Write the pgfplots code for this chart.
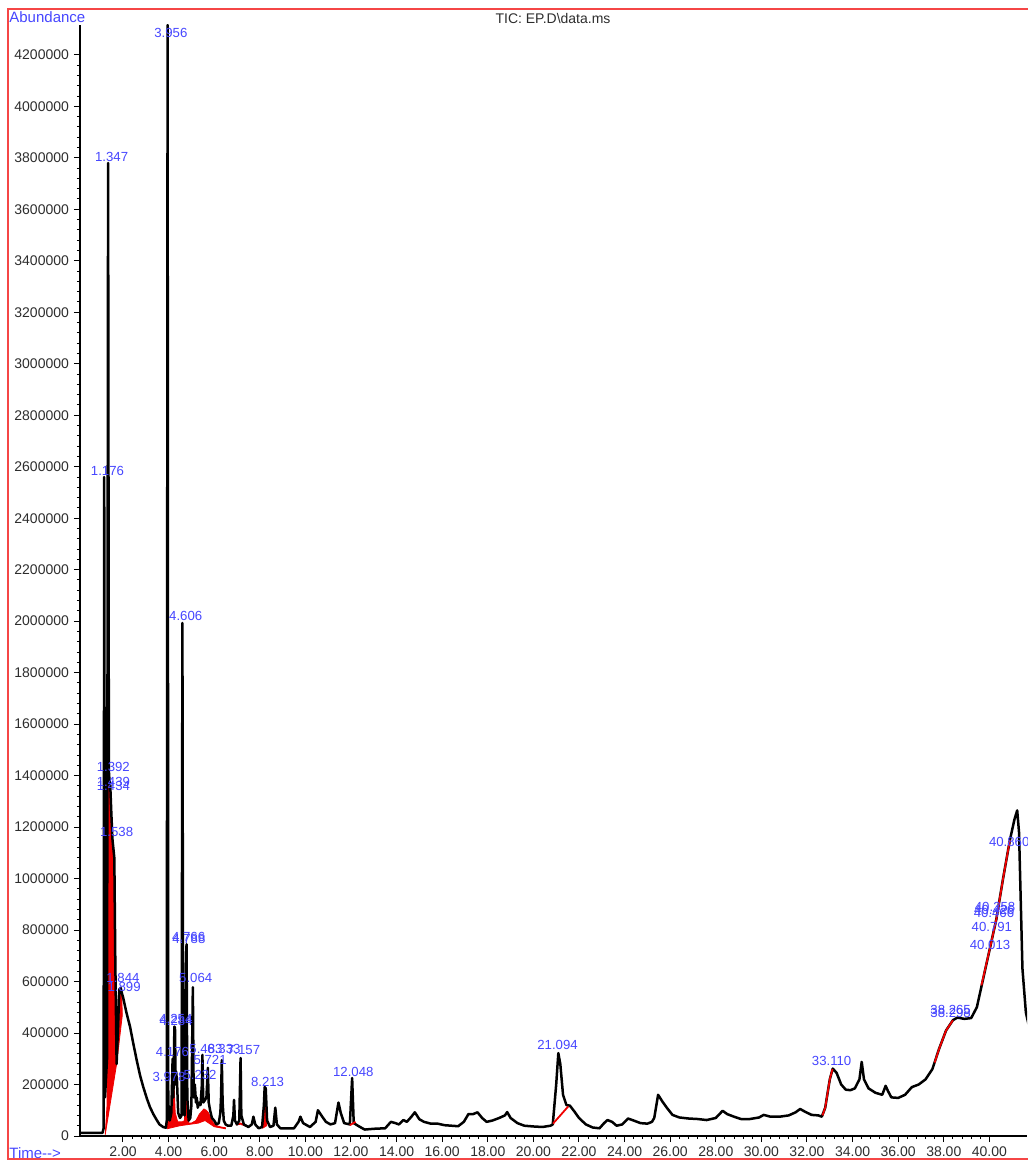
\documentclass[border=0pt]{standalone}
\usepackage{fontspec}
\setmainfont{Liberation Sans}
\usepackage{pgfplots}
\pgfplotsset{compat=1.18}
\definecolor{pkblue}{RGB}{70,70,255}
\definecolor{framered}{RGB}{245,70,70}
\definecolor{tickgray}{RGB}{45,45,45}
\definecolor{intred}{RGB}{240,0,0}
\tikzset{lbl/.style={font=\fontsize{6.6}{7}\selectfont, text=pkblue, inner sep=0pt}}
\begin{document}
\begin{tikzpicture}
\useasboundingbox (-40pt,-12pt) rectangle (473.5pt,568pt);
\begin{axis}[
  at={(0pt,0pt)}, anchor=south west, scale only axis,
  width=473.5pt, height=555.5pt,
  xmin=0.114, xmax=41.65, ymin=0, ymax=4316000,
  axis x line*=bottom, axis y line*=left,
  axis line style={black, line width=0.8pt},
  xtick={2,4,6,8,10,12,14,16,18,20,22,24,26,28,30,32,34,36,38,40},
  ytick={0,200000,400000,600000,800000,1000000,1200000,1400000,1600000,1800000,2000000,2200000,2400000,2600000,2800000,3000000,3200000,3400000,3600000,3800000,4000000,4200000},
  scaled y ticks=false,
  /pgf/number format/assume math mode=true,
  y tick label style={/pgf/number format/fixed, /pgf/number format/precision=0, /pgf/number format/1000 sep={}, xshift=1pt},
  x tick label style={/pgf/number format/fixed, /pgf/number format/fixed zerofill, /pgf/number format/precision=2, yshift=1pt},
  minor x tick num=4, minor y tick num=4,
  tick align=outside,
  major tick length=3pt, minor tick length=1.6pt,
  tick style={black, line width=0.5pt},
  ticklabel style={font=\fontsize{7}{8}\selectfont, text=tickgray},
  clip=true,
]
% integration fills (red)
\addplot[intred, fill=intred, line width=0.4pt] coordinates {
(1.22,5000)(1.30,120000)(1.345,1356000)(1.38,1370000)(1.44,1362000)(1.49,1255000)(1.54,1155000)(1.62,1085000)(1.66,700000)(1.70,290000)(1.72,280000)(1.22,5000)};
\addplot[intred, fill=intred, line width=0.4pt] coordinates {
(1.72,280000)(1.78,420000)(1.84,560000)(1.90,565000)(1.95,530000)(1.97,470000)(1.72,280000)};
\addplot[intred, fill=intred, line width=0.4pt] coordinates {
(3.93,32000)(3.97,130000)(3.99,60000)(4.05,55000)(4.12,80000)(4.17,283000)(4.21,120000)(4.25,180000)(4.29,90000)(4.4,55000)(4.6,55000)(4.7,60000)(4.775,676000)(4.80,120000)(4.88,50000)(5.0,50000)(5.2,60000)(5.35,85000)(5.45,95000)(5.55,105000)(5.65,100000)(5.75,90000)(5.85,70000)(5.95,52000)(6.1,40000)(6.3,35000)(6.5,32000)(6.5,28000)(6.0,36000)(5.6,60000)(5.3,50000)(4.5,40000)(3.93,28000)};
\addplot[intred, line width=1pt] coordinates {(6.95,45000)(7.15,48000)(7.4,40000)};
\addplot[intred, fill=intred, line width=0.4pt] coordinates {
(8.12,30000)(8.19,150000)(8.25,150000)(8.30,40000)(8.12,30000)};
% main TIC trace
\addplot[black, line width=1.25pt, line join=round] coordinates {
(0.15,12000)(1.10,12000)(1.15,30000)(1.176,2560000)(1.21,150000)(1.30,300000)(1.347,3780000)(1.38,1420000)(1.392,1400000)(1.42,1370000)(1.44,1365000)(1.49,1250000)(1.54,1150000)(1.62,1080000)(1.66,700000)(1.72,280000)(1.78,420000)(1.84,570000)(1.90,575000)(1.95,555000)(2.0,540000)(2.15,480000)(2.31,424000)(2.45,360000)(2.6,295000)(2.75,235000)(2.89,190000)(3.05,145000)(3.18,113000)(3.33,85000)(3.48,62000)(3.6,45000)(3.76,35000)(3.88,32000)(3.92,60000)(3.956,4316000)(3.985,130000)(4.05,60000)(4.12,90000)(4.176,300000)(4.21,150000)(4.254,425000)(4.28,420000)(4.31,200000)(4.33,250000)(4.37,210000)(4.42,90000)(4.50,70000)(4.57,80000)(4.606,1993000)(4.64,100000)(4.70,80000)(4.766,700000)(4.788,745000)(4.82,150000)(4.88,60000)(4.95,70000)(5.00,120000)(5.064,578000)(5.10,150000)(5.15,200000)(5.20,130000)(5.232,150000)(5.28,110000)(5.35,130000)(5.40,120000)(5.46,200000)(5.483,315000)(5.52,130000)(5.60,140000)(5.66,150000)(5.721,265000)(5.76,130000)(5.82,100000)(5.90,70000)(6.0,60000)(6.1,45000)(6.2,50000)(6.27,90000)(6.30,150000)(6.333,295000)(6.37,130000)(6.42,60000)(6.5,45000)(6.6,40000)(6.75,40000)(6.84,80000)(6.87,140000)(6.91,60000)(7.0,45000)(7.10,60000)(7.157,303000)(7.19,80000)(7.3,45000)(7.5,35000)(7.65,45000)(7.72,75000)(7.8,45000)(7.95,30000)(8.1,35000)(8.18,120000)(8.213,190000)(8.26,185000)(8.32,60000)(8.45,35000)(8.6,40000)(8.68,110000)(8.75,45000)(8.9,30000)(9.0,30000)(9.5,30000)(9.7,55000)(9.78,75000)(9.9,50000)(10.2,35000)(10.45,55000)(10.55,100000)(10.7,80000)(10.9,55000)(11.1,45000)(11.3,50000)(11.45,130000)(11.55,90000)(11.7,50000)(11.95,45000)(12.05,225000)(12.12,50000)(12.3,40000)(12.6,25000)(13.0,28000)(13.5,30000)(13.75,55000)(13.95,50000)(14.1,45000)(14.3,62000)(14.45,55000)(14.65,75000)(14.8,92000)(15.0,65000)(15.2,55000)(15.5,48000)(15.8,48000)(16.1,42000)(16.4,40000)(16.7,38000)(16.95,55000)(17.15,85000)(17.35,85000)(17.55,92000)(17.75,70000)(17.95,55000)(18.2,60000)(18.5,70000)(18.75,80000)(18.85,93000)(19.0,70000)(19.3,50000)(19.6,40000)(20.0,37000)(20.4,35000)(20.75,40000)(20.85,45000)(21.0,200000)(21.094,322000)(21.18,280000)(21.3,160000)(21.45,120000)(21.6,118000)(21.8,95000)(22.0,70000)(22.3,45000)(22.6,33000)(22.9,30000)(23.1,50000)(23.25,62000)(23.45,55000)(23.65,40000)(23.9,45000)(24.15,68000)(24.4,60000)(24.7,50000)(25.0,48000)(25.2,55000)(25.3,70000)(25.47,160000)(25.65,135000)(25.85,110000)(26.1,82000)(26.4,72000)(26.8,68000)(27.2,66000)(27.6,62000)(28.0,70000)(28.3,98000)(28.5,85000)(28.8,75000)(29.1,66000)(29.5,66000)(29.9,72000)(30.1,82000)(30.4,75000)(30.8,75000)(31.2,80000)(31.5,92000)(31.7,105000)(31.9,95000)(32.2,82000)(32.5,80000)(32.65,75000)(32.8,110000)(33.0,220000)(33.13,262000)(33.3,245000)(33.5,200000)(33.7,180000)(33.9,178000)(34.1,185000)(34.3,220000)(34.4,288000)(34.5,220000)(34.7,185000)(35.0,168000)(35.3,160000)(35.45,195000)(35.55,175000)(35.7,150000)(36.0,148000)(36.3,160000)(36.6,190000)(36.9,200000)(37.2,220000)(37.5,260000)(37.8,340000)(38.1,410000)(38.4,450000)(38.6,460000)(38.9,455000)(39.2,458000)(39.45,500000)(39.7,600000)(40.0,720000)(40.3,840000)(40.6,1000000)(40.9,1150000)(41.1,1230000)(41.22,1265000)(41.3,1180000)(41.45,650000)(41.6,480000)(41.8,400000)};
% red baseline / integration segments over trace
\addplot[intred, line width=0.9pt] coordinates {(11.95,42000)(12.2,55000)};
\addplot[intred, line width=0.9pt] coordinates {(20.86,48000)(21.53,115000)};
\addplot[intred, line width=0.9pt] coordinates {(32.68,80000)(32.8,110000)(33.0,220000)(33.12,260000)};
\addplot[intred, line width=0.9pt] coordinates {(37.6,285000)(37.8,340000)(38.1,410000)(38.4,450000)};
\addplot[intred, line width=0.9pt] coordinates {(39.65,585000)(40.0,720000)(40.3,840000)(40.6,1000000)(40.9,1150000)};
% peak labels
\node[lbl] at (axis cs:4.10,4285000) {3.956};
\node[lbl] at (axis cs:1.50,3803000) {1.347};
\node[lbl] at (axis cs:1.32,2583000) {1.176};
\node[lbl] at (axis cs:4.75,2020000) {4.606};
\node[lbl] at (axis cs:1.575,1435000) {1.392};
\node[lbl] at (axis cs:1.58,1376000) {1.439};
\node[lbl] at (axis cs:1.58,1360000) {1.434};
\node[lbl] at (axis cs:1.72,1182000) {1.538};
\node[lbl] at (axis cs:2.00,614000) {1.844};
\node[lbl] at (axis cs:2.05,579000) {1.899};
\node[lbl] at (axis cs:4.88,772000) {4.766};
\node[lbl] at (axis cs:4.89,766000) {4.788};
\node[lbl] at (axis cs:5.19,614000) {5.064};
\node[lbl] at (axis cs:4.32,455000) {4.254};
\node[lbl] at (axis cs:4.33,448000) {4.284};
\node[lbl] at (axis cs:4.17,326000) {4.176};
\node[lbl] at (axis cs:5.64,338000) {5.483};
\node[lbl] at (axis cs:6.43,338000) {6.333};
\node[lbl] at (axis cs:7.29,334000) {7.157};
\node[lbl] at (axis cs:5.82,295000) {5.721};
\node[lbl] at (axis cs:5.38,237000) {5.232};
\node[lbl] at (axis cs:4.02,229000) {3.978};
\node[lbl] at (axis cs:8.34,210000) {8.213};
\node[lbl] at (axis cs:12.10,249000) {12.048};
\node[lbl] at (axis cs:21.06,354000) {21.094};
\node[lbl] at (axis cs:33.08,291000) {33.110};
\node[lbl] at (axis cs:38.30,489000) {38.265};
\node[lbl] at (axis cs:38.30,478000) {38.298};
\node[lbl] at (axis cs:40.87,1143000) {40.860};
\node[lbl] at (axis cs:40.25,891000) {40.358};
\node[lbl] at (axis cs:40.22,880000) {40.426};
\node[lbl] at (axis cs:40.20,866000) {40.466};
\node[lbl] at (axis cs:40.11,813000) {40.791};
\node[lbl] at (axis cs:40.03,742000) {40.013};
\end{axis}
\draw[framered, line width=0.9pt] (490pt,563.5pt) -- (-36pt,563.5pt) -- (-36pt,-11.5pt) -- (490pt,-11.5pt);
\node[anchor=west, inner sep=0pt, text=pkblue, font=\fontsize{7.5}{8}\selectfont] at (-35.5pt,559.5pt) {Abundance};
\node[inner sep=0pt, text=tickgray, font=\fontsize{7}{8}\selectfont] at (236.5pt,558.5pt) {TIC: EP.D\textbackslash data.ms};
\node[anchor=west, inner sep=0pt, text=pkblue, font=\fontsize{7.5}{8}\selectfont] at (-35.5pt,-8.5pt) {Time-{}-{}>};
\end{tikzpicture}
\end{document}
